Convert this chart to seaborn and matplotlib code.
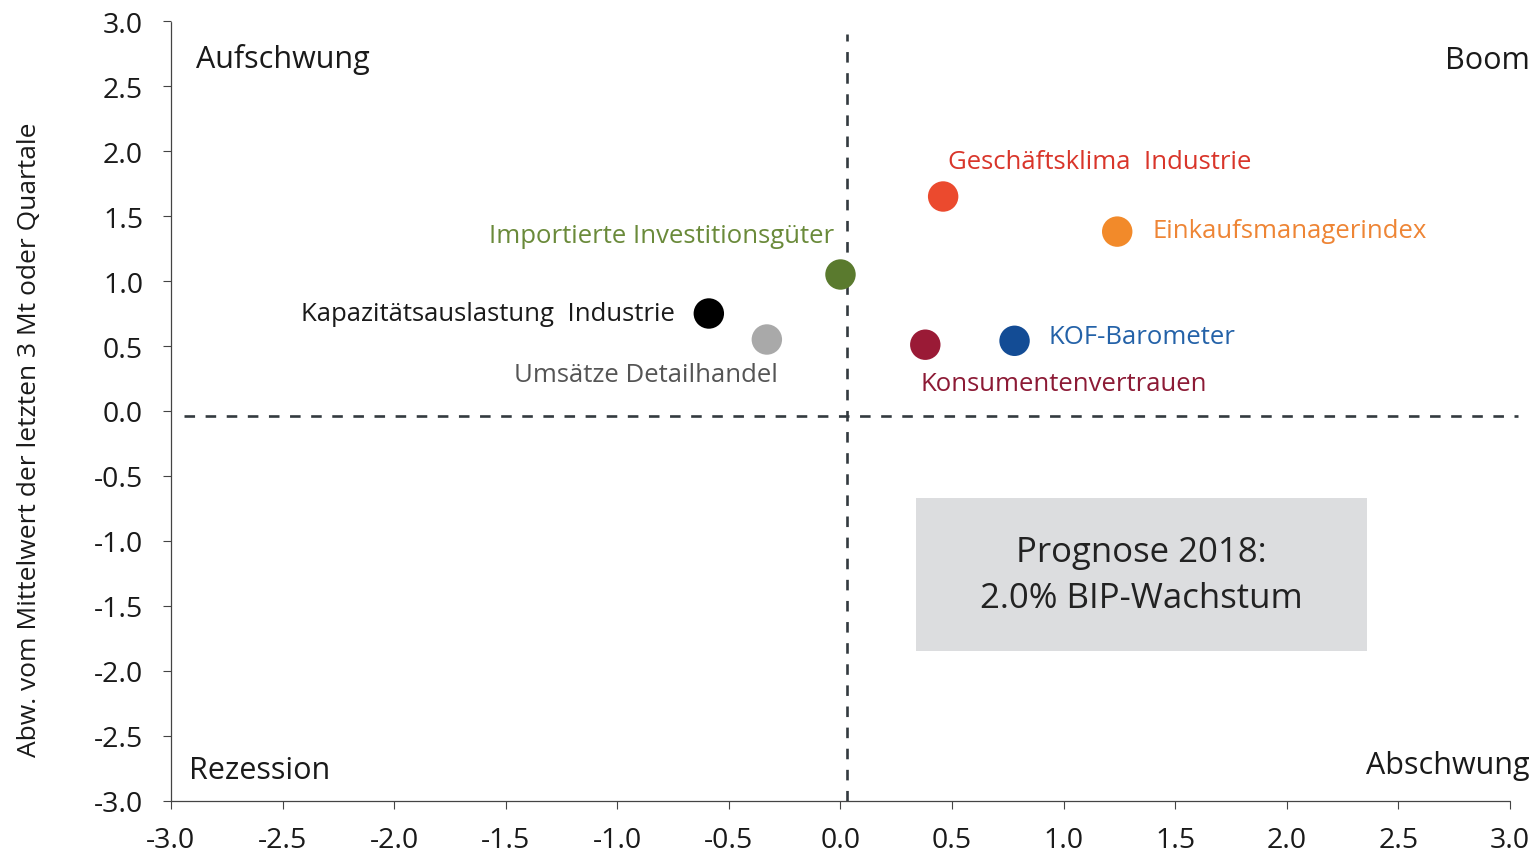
import pandas as pd
import matplotlib.pyplot as plt
import matplotlib.patches as mpatches
import seaborn as sns

# ================= DATA =================
names = [
    "Geschäftsklima  Industrie",
    "Einkaufsmanagerindex",
    "Importierte Investitionsgüter",
    "Kapazitätsauslastung  Industrie",
    "Umsätze Detailhandel",
    "Konsumentenvertrauen",
    "KOF-Barometer",
]
x_vals = [0.46, 1.24, 0.00, -0.59, -0.33, 0.38, 0.78]
y_vals = [1.65, 1.38, 1.05, 0.75, 0.55, 0.51, 0.54]

dot_colors = ["#EB4A2E", "#F28A2A", "#5A7A2E", "#000000", "#A9A9A9", "#9A1A36", "#134C95"]
label_colors = ["#D9352A", "#EE8535", "#6A8A3A", "#1A1A1A", "#555555", "#8C1A35", "#2462A8"]

quadrants = ["Aufschwung", "Boom", "Rezession", "Abschwung"]
box_text = "Prognose 2018:\n2.0% BIP-Wachstum"
ylabel = "Abw. vom Mittelwert der letzten 3 Mt oder Quartale"

df = pd.DataFrame({"name": names, "x": x_vals, "y": y_vals})

# ================= STYLE =================
sns.set_style("white")
plt.rcParams["font.family"] = ["Open Sans", "DejaVu Sans"]

fig = plt.figure(figsize=(15.35, 8.53), dpi=100)
ax = fig.add_axes([0.1114, 0.0598, 0.8723, 0.9144])

# ================= PLOT =================
sns.scatterplot(
    data=df, x="x", y="y", hue="name",
    palette=dict(zip(names, dot_colors)),
    s=480, edgecolor="none", legend=False, ax=ax, zorder=3,
)

# quadrant lines
ax.plot([0.03, 0.03], [-3.0, 2.9], ls=(0, (4, 4)), color="#333A3F", lw=1.9, clip_on=False, zorder=1)
ax.plot([-2.94, 3.035], [-0.04, -0.04], ls=(0, (4, 4)), color="#333A3F", lw=1.9, clip_on=False, zorder=1)

# series labels
label_pos = [
    (0.48, 1.92, "left"),
    (1.40, 1.39, "left"),
    (-0.03, 1.35, "right"),
    (-0.74, 0.75, "right"),
    (-0.28, 0.28, "right"),
    (0.36, 0.21, "left"),
    (0.93, 0.57, "left"),
]
for name, col, (tx, ty, ha) in zip(names, label_colors, label_pos):
    ax.text(tx, ty, name, color=col, fontsize=18.5, ha=ha, va="center")

# quadrant labels
qkw = dict(fontsize=22, va="center", color="#1A1A1A", clip_on=False)
ax.text(-2.89, 2.71, quadrants[0], ha="left", **qkw)
ax.text(3.09, 2.70, quadrants[1], ha="right", **qkw)
ax.text(-2.92, -2.76, quadrants[2], ha="left", **qkw)
ax.text(3.09, -2.72, quadrants[3], ha="right", **qkw)

# forecast box
ax.add_patch(mpatches.Rectangle((0.34, -1.85), 2.02, 1.18, facecolor="#DCDDDF", edgecolor="none", zorder=2))
ax.text(1.35, -1.26, box_text, fontsize=25, ha="center", va="center", color="#222222",
        linespacing=1.45, zorder=3)

# ================= AXES =================
ax.set_xlim(-3, 3)
ax.set_ylim(-3, 3)
ticks = [-3.0, -2.5, -2.0, -1.5, -1.0, -0.5, 0.0, 0.5, 1.0, 1.5, 2.0, 2.5, 3.0]
ax.set_xticks(ticks)
ax.set_yticks(ticks)
ax.set_xticklabels([f"{t:.1f}" for t in ticks])
ax.set_yticklabels([f"{t:.1f}" for t in ticks])
ax.set_xlabel("")
ax.set_ylabel(ylabel, fontsize=19, color="#1A1A1A")
ax.yaxis.set_label_coords(-0.096, 0.464)
ax.tick_params(axis="both", direction="out", length=6, width=0.8, color="#444444",
               labelsize=20.5, labelcolor="#1A1A1A", bottom=True, left=True)
ax.tick_params(axis="x", pad=12)
ax.tick_params(axis="y", pad=14)

for side in ["top", "right"]:
    ax.spines[side].set_visible(False)
for side in ["left", "bottom"]:
    ax.spines[side].set_linestyle((0, (1, 1)))
    ax.spines[side].set_color("#444444")
    ax.spines[side].set_linewidth(0.9)

fig.savefig("out.png", dpi=100)
